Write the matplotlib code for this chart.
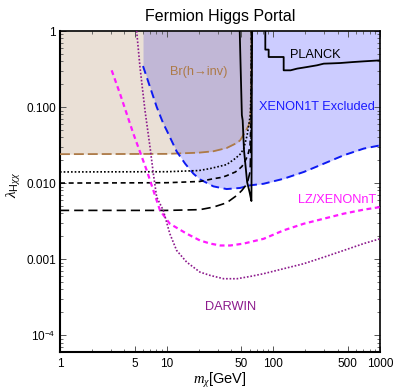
import matplotlib
matplotlib.use("Agg")
import matplotlib.pyplot as plt
from matplotlib.ticker import FixedLocator, NullFormatter, LogLocator

plt.rcParams["font.family"] = ["Liberation Sans", "DejaVu Sans"]
plt.rcParams["mathtext.fontset"] = "custom"
plt.rcParams["mathtext.rm"] = "Liberation Sans"
plt.rcParams["mathtext.it"] = "Liberation Serif:italic"

# ---- data: dark-matter mass m_chi [GeV] and coupling lambda_Hchichi ----
xenon1t_m = [6.0, 8.07, 9.3, 10.0, 12.4, 14.9, 17.8, 20.5, 27.4, 36.5, 48.7,
             60.4, 81.2, 125, 193, 297, 457, 703, 1000]
xenon1t_lam = [0.346, 0.100, 0.0605, 0.0494, 0.0261, 0.018, 0.0133, 0.0112,
               0.00905, 0.00834, 0.00862, 0.00933, 0.0098, 0.0114, 0.014,
               0.018, 0.0232, 0.0284, 0.0313]

brinv_m = [1, 10, 20, 27.4, 36.5, 45.3, 48.9, 54.4, 58.8, 60.9, 61.9, 62.3,
           62.45, 62.5]
brinv_lam = [0.024, 0.0242, 0.0251, 0.0262, 0.0289, 0.0336, 0.0365, 0.0469,
             0.0574, 0.0668, 0.126, 0.2, 0.36, 1.0]

future_dot_m = [1, 10, 20, 25.5, 33, 36.5, 44.1, 48.9, 52.6, 56.8, 58.8, 60.9,
                62.0, 62.5]
future_dot_lam = [0.014, 0.0141, 0.0146, 0.0155, 0.0169, 0.0175, 0.0211,
                  0.024, 0.028, 0.0425, 0.0574, 0.080, 0.2, 1.0]

future_dash_m = [1, 10, 20.5, 27.4, 33, 36.5, 44.1, 47, 50.7, 54.4, 57.5, 60.4,
                 62.0, 62.5]
future_dash_lam = [0.0100, 0.0101, 0.0105, 0.0114, 0.0119, 0.0125, 0.0140,
                   0.0150, 0.0165, 0.0195, 0.023, 0.030, 0.07, 1.0]

future_long_m = [1, 10, 20.5, 27.4, 36.5, 45.6, 50.7, 56.8, 60.5, 62.0, 62.5]
future_long_lam = [0.00437, 0.00437, 0.00447, 0.00483, 0.0055, 0.0069,
                   0.0080, 0.0098, 0.0140, 0.04, 1.0]

planck_m = [48.4, 49.0, 50.7, 51.6, 53.1, 56.8, 60.0, 62.3, 62.6, 62.8, 63.3,
            65.0, 84.1, 84.1, 90.4, 90.4, 125, 125, 145, 167, 207, 257, 297,
            350, 422, 550, 703, 1000]
planck_lam = [1.0, 0.5, 0.078, 0.0668, 0.0269, 0.0103, 0.0075, 0.0058, 0.02,
              0.2, 1.0, 2.0, 2.0, 0.569, 0.569, 0.455, 0.455, 0.304, 0.304,
              0.32, 0.336, 0.354, 0.372, 0.375, 0.379, 0.39, 0.399, 0.411]

lz_m = [3.05, 3.65, 4.87, 6.5, 7.5, 8.66, 10.7, 15.4, 20.5, 25.6, 31.8, 39.5,
        52.7, 81.2, 125, 193, 297, 457, 703, 1000]
lz_lam = [0.304, 0.150, 0.0447, 0.0147, 0.00802, 0.00437, 0.00292, 0.00216,
          0.00176, 0.0016, 0.00151, 0.00151, 0.0016, 0.00185, 0.00239,
          0.00292, 0.0034, 0.00396, 0.00447, 0.00483]

darwin_m = [5.23, 5.62, 6.26, 6.98, 7.5, 8.06, 9.3, 10.7, 12.4, 15.4, 20.5,
            25.6, 34.2, 45.7, 60.9, 81.2, 125, 193, 297, 457, 703, 1000]
darwin_lam = [1.0, 0.336, 0.0905, 0.0298, 0.0133, 0.00655, 0.00437, 0.00216,
              0.0013, 0.000913, 0.000675, 0.00061, 0.000552, 0.000552,
              0.000592, 0.000643, 0.000748, 0.00087, 0.00106, 0.0013,
              0.0016, 0.00185]

x_ticks = [1, 5, 10, 50, 100, 500, 1000]
x_ticklabels = ["1", "5", "10", "50", "100", "500", "1000"]
y_ticks = [1e-4, 1e-3, 1e-2, 1e-1, 1]
y_ticklabels = [r"$10^{-4}$", "0.001", "0.010", "0.100", "1"]

# ---- figure ----
fig = plt.figure(figsize=(3.94, 3.90), dpi=100)
ax = fig.add_axes([60 / 394, 1 - 352 / 390, 320 / 394, 321 / 390])
ax.set_xscale("log")
ax.set_yscale("log")
ax.set_xlim(1, 1000)
ax.set_ylim(6e-5, 1)

# excluded regions
ax.fill_between(xenon1t_m, xenon1t_lam, 1, color=(0, 0, 1), alpha=0.2,
                lw=0, zorder=1)
ax.fill_between(brinv_m, brinv_lam, 1, color=(0.6, 0.4, 0.2), alpha=0.2,
                lw=0, zorder=1.1)

# curves
ax.plot(brinv_m, brinv_lam, color=(0.68, 0.48, 0.28), lw=1.3,
        ls=(0, (5.5, 2.2)), zorder=3)
ax.plot(xenon1t_m, xenon1t_lam, color=(0.05, 0.1, 0.95), lw=1.4,
        ls=(0, (4.2, 2.4)), zorder=3)
ax.plot(future_dot_m, future_dot_lam, color="black", lw=1.2,
        ls=(0, (1, 1.2)), zorder=3)
ax.plot(future_dash_m, future_dash_lam, color="black", lw=1.2,
        ls=(0, (3, 2.2)), zorder=3)
ax.plot(future_long_m, future_long_lam, color="black", lw=1.2,
        ls=(0, (5.5, 3)), zorder=3)
ax.plot(planck_m, planck_lam, color="black", lw=1.3, zorder=4)
ax.plot(lz_m, lz_lam, color=(1, 0.1, 1), lw=1.6, ls=(0, (2.2, 1.6)), zorder=3)
ax.plot(darwin_m, darwin_lam, color=(0.55, 0.1, 0.55), lw=1.2,
        ls=(0, (1, 1.1)), zorder=3)

# labels in the plot
ax.text(247, 0.49, "PLANCK", fontsize=9.2, color="black", ha="center",
        va="center", zorder=5)
ax.text(20.0, 0.289, "Br(h\u2192inv)", fontsize=9.2, color=(0.68, 0.48, 0.28),
        ha="center", va="center", zorder=5)
ax.text(258, 0.1, "XENON1T Excluded", fontsize=9.2, color=(0.1, 0.1, 1),
        ha="center", va="center", zorder=5)
ax.text(395, 0.0059, "LZ/XENONnT", fontsize=9.2, color=(1, 0.1, 1),
        ha="center", va="center", zorder=5)
ax.text(39.8, 0.000234, "DARWIN", fontsize=9.2, color=(0.55, 0.1, 0.55),
        ha="center", va="center", zorder=5)

# axes styling
ax.set_title("Fermion Higgs Portal", fontsize=11.5, pad=7)
ax.set_xlabel(r"$m_\chi$[GeV]", fontsize=10.5)
ax.set_ylabel(r"$\lambda_{\mathrm{H}\chi\chi}$", fontsize=11)
ax.xaxis.set_label_coords(0.5, -0.058)
ax.yaxis.set_label_coords(-0.115, 0.52)

ax.xaxis.set_major_locator(FixedLocator(x_ticks))
ax.set_xticklabels(x_ticklabels)
ax.xaxis.set_minor_locator(LogLocator(base=10, subs=range(1, 10)))
ax.xaxis.set_minor_formatter(NullFormatter())
ax.yaxis.set_major_locator(FixedLocator(y_ticks))
ax.set_yticklabels(y_ticklabels)
ax.yaxis.set_minor_locator(LogLocator(base=10, subs=range(2, 10)))
ax.yaxis.set_minor_formatter(NullFormatter())

ax.tick_params(which="both", direction="in", top=True, right=True,
               color="#555555", labelsize=8.5)
ax.tick_params(which="major", length=4, width=0.7)
ax.tick_params(which="minor", length=2.2, width=0.6)
ax.tick_params(axis="y", pad=3)
ax.tick_params(axis="x", pad=4)

for side in ["left", "bottom"]:
    ax.spines[side].set_linewidth(1.5)
for side in ["top", "right"]:
    ax.spines[side].set_linewidth(1.2)

fig.savefig("out.png", dpi=100)
